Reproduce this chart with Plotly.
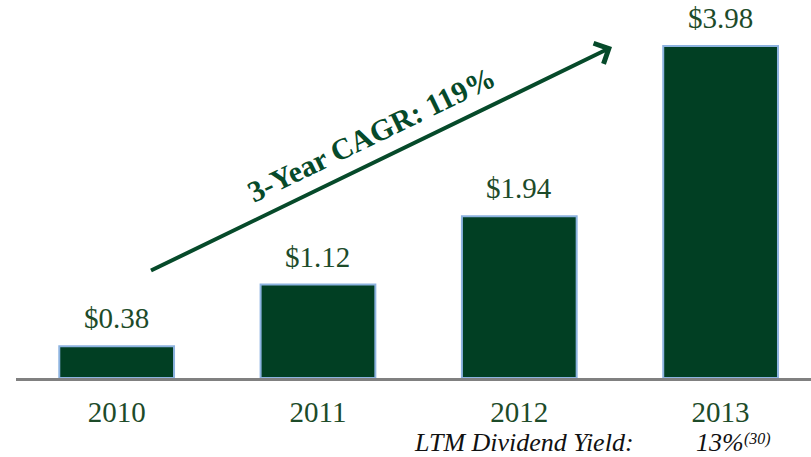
import plotly.graph_objects as go

# Annual dividends per share
years = ["2010", "2011", "2012", "2013"]
dividends = [0.38, 1.12, 1.94, 3.98]
value_labels = ["$0.38", "$1.12", "$1.94", "$3.98"]
cagr_label = "3-Year CAGR: 119%"
yield_caption = "LTM Dividend Yield:"
yield_value = "13%"
yield_note = "(30)"

W, H = 811, 457
ML, MR, MT, MB = 16, 0, 0, 79
PW, PH = W - ML - MR, H - MT - MB

BAR_FILL = "#013F23"
BAR_EDGE = "#8DB3E0"
TEXT_GREEN = "#1D4B29"
ARROW_GREEN = "#064A2A"
SERIF = "Liberation Serif, Times New Roman, serif"


def px_x(p):
    """Pixel column -> paper x."""
    return (p - ML) / PW


def px_y(p):
    """Pixel row -> paper y."""
    return (H - MB - p) / PH


fig = go.Figure()
fig.add_trace(
    go.Bar(
        x=years,
        y=dividends,
        width=0.57,
        marker=dict(color=BAR_FILL, line=dict(color=BAR_EDGE, width=2)),
        hoverinfo="skip",
    )
)

# Value labels above each bar (x given as category index)
for i, (v, lab) in enumerate(zip(dividends, value_labels)):
    fig.add_annotation(
        x=i, y=v, xref="x", yref="y",
        text=lab, showarrow=False,
        yanchor="bottom", yshift=10,
        font=dict(family=SERIF, size=29, color=TEXT_GREEN),
    )

# Growth arrow
fig.add_annotation(
    x=px_x(612), y=px_y(47), xref="paper", yref="paper",
    ax=148 - 612, ay=272 - 47, axref="pixel", ayref="pixel",
    text=" ", showarrow=True,
    arrowhead=4, arrowsize=1.1, arrowwidth=4, arrowcolor=ARROW_GREEN,
)
fig.add_annotation(
    x=px_x(371), y=px_y(135), xref="paper", yref="paper",
    text=f"<b>{cagr_label}</b>", showarrow=False,
    textangle=-25.9,
    font=dict(family=SERIF, size=30, color=ARROW_GREEN),
)

# Dividend yield footnote
foot_font = dict(family=SERIF, size=26, color="#111111")
fig.add_annotation(
    x=px_x(524), y=px_y(442), xref="paper", yref="paper",
    text=f"<i>{yield_caption}</i>", showarrow=False,
    xanchor="center", yanchor="middle", borderpad=0,
    font=foot_font,
)
fig.add_annotation(
    x=px_x(695), y=px_y(442), xref="paper", yref="paper",
    text=f"<i>{yield_value}</i>", showarrow=False,
    xanchor="left", yanchor="middle", borderpad=0,
    font=foot_font,
)
fig.add_annotation(
    x=px_x(743), y=px_y(439), xref="paper", yref="paper",
    text=f"<i>{yield_note}</i>", showarrow=False,
    xanchor="left", yanchor="middle", borderpad=0,
    font=dict(family=SERIF, size=16, color="#111111"),
)

fig.update_layout(
    width=W, height=H,
    margin=dict(l=ML, r=MR, t=MT, b=MB),
    paper_bgcolor="white", plot_bgcolor="white",
    showlegend=False,
    xaxis=dict(
        type="category", range=[-0.5, 3.449],
        showgrid=False, zeroline=False,
        showline=True, linecolor="#808080", linewidth=3,
        ticks="outside", ticklen=6, tickcolor="rgba(0,0,0,0)",
        tickfont=dict(family=SERIF, size=29, color=TEXT_GREEN),
    ),
    yaxis=dict(
        range=[0, 378 / 83.42],
        showgrid=False, zeroline=False, showline=False,
        showticklabels=False, ticks="",
    ),
)

fig.write_html("out.html")
